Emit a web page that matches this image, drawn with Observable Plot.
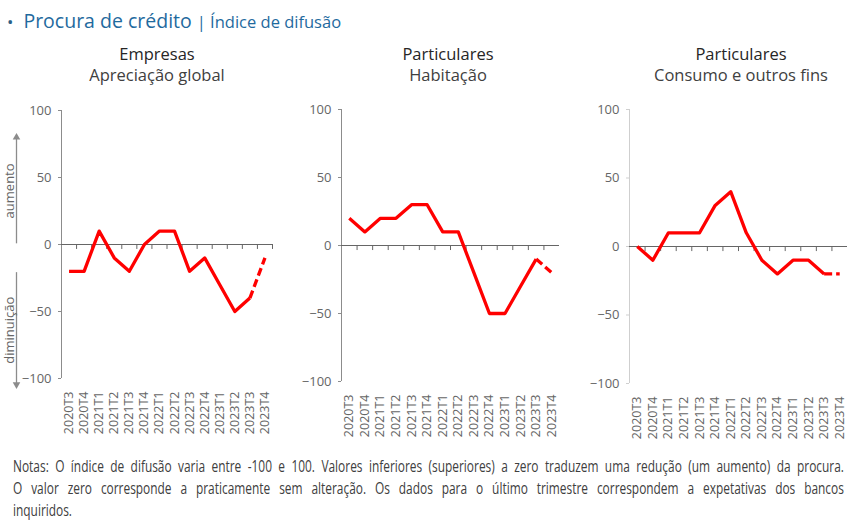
<!DOCTYPE html>
<html>
<head>
<meta charset="utf-8">
<script src="https://cdn.jsdelivr.net/npm/d3@7"></script>
<script src="https://cdn.jsdelivr.net/npm/@observablehq/plot@0.6"></script>
<style>
  body { margin: 0; background: #fff; }
  #chart { position: relative; width: 850px; height: 530px; overflow: hidden; font-family: "Open Sans", sans-serif; }
  .abs { position: absolute; }
  .title { left: 7px; top: 9px; white-space: nowrap; color: #1f6a9e; line-height: 24px; }
  .title .bullet { font-size: 17px; color: #2b5f86; margin-right: 10px; }
  .title .main { font-size: 19.5px; }
  .title .sep { font-size: 16.5px; margin-left: 5px; }
  .ptitle { text-align: center; width: 260px; line-height: 21px; }
  .ptitle .l1 { font-size: 16.5px; color: #262626; }
  .ptitle .l2 { font-size: 16.5px; color: #404040; }
  .notes { left: 13px; top: 455px; width: 1187px; transform: scaleX(0.7); transform-origin: 0 0; font-family: "Open Sans", sans-serif; font-size: 17px; line-height: 22px; color: #404040; }
  .notes div { text-align: justify; text-align-last: justify; white-space: nowrap; }
  .notes div:last-child { text-align-last: left; }
</style>
</head>
<body>
<div id="chart"></div>
<script>
// Quarterly periods on the x axis
const periods = ["2020T3","2020T4","2021T1","2021T2","2021T3","2021T4","2022T1","2022T2","2022T3","2022T4","2023T1","2023T2","2023T3","2023T4"];

// Diffusion index per panel (last quarter = banks' expectations)
const empresas  = [-20, -20, 10, -10, -20, 0, 10, 10, -20, -10, -30, -50, -40, -10];
const habitacao = [20, 10, 20, 20, 30, 30, 10, 10, -20, -50, -50, -30, -10, -20];
const consumo   = [0, -10, 10, 10, 10, 30, 40, 10, -10, -20, -10, -10, -20, -20];

const yTicks = [-100, -50, 0, 50, 100];

// Side annotation of the first panel
const sideLabels = [{label: "aumento", y: 40}, {label: "diminuição", y: -64}];
const sideArrows = [{from: 0.5, to: 80, angle: 0}, {from: -21, to: -104.5, angle: 180}];

// Footnote, one entry per printed line
const noteLines = [
  "Notas: O índice de difusão varia entre -100 e 100. Valores inferiores (superiores) a zero traduzem uma redução (um aumento) da procura.",
  "O valor zero corresponde a praticamente sem alteração. Os dados para o último trimestre correspondem a expetativas dos bancos",
  "inquiridos."
];

const panels = [
  {l1: "Empresas", l2: "Apreciação global", values: empresas, left: 0, width: 285, marginLeft: 61, marginRight: 13, marginTop: 10, plotH: 268, axisColor: "#8c8c8c", nTicks: 14, titleX: 157, side: true},
  {l1: "Particulares", l2: "Habitação", values: habitacao, left: 290, width: 280, marginLeft: 51, marginRight: 11, marginTop: 9, plotH: 272, axisColor: "#8c8c8c", nTicks: 13, titleX: 448},
  {l1: "Particulares", l2: "Consumo e outros fins", values: consumo, left: 570, width: 280, marginLeft: 59, marginRight: 3, marginTop: 9, plotH: 274, axisColor: "#cfcfcf", nTicks: 13, titleX: 741}
];

const chart = document.getElementById("chart");

const title = document.createElement("div");
title.className = "abs title";
title.innerHTML = '<span class="bullet">•</span><span class="main">Procura de crédito</span><span class="sep">| Índice de difusão</span>';
chart.appendChild(title);

const red = "#ff0000";
const svgTop = 100, svgH = 345;

for (const p of panels) {
  const rows = p.values.map((v, i) => ({x: i + 0.5, v, period: periods[i]}));
  const solid = rows.slice(0, -1);
  const dashed = rows.slice(-2);
  const marks = [
    Plot.ruleX([0], {stroke: p.axisColor, strokeWidth: 1}),
    Plot.axisY({ticks: yTicks, tickSize: 3, tickPadding: 7, stroke: p.axisColor, fill: "#666666", fontSize: 13, label: null}),
    Plot.axisX({ticks: rows.map(d => d.x), tickFormat: d => periods[Math.round(d - 0.5)], tickRotate: -90, tickSize: 0, tickPadding: 13, anchor: "bottom", fill: "#666666", fontSize: 12.5, label: null}),
    Plot.ruleY([0], {stroke: "#666666", strokeWidth: 1}),
    Plot.ruleX(d3.range(1, p.nTicks + 1), {x: d => d, y1: 0, y2: -3.7, stroke: "#666666", strokeWidth: 1}),
    Plot.line(solid, {x: "x", y: "v", stroke: red, strokeWidth: 3.3, strokeLinecap: "butt", strokeLinejoin: "round"}),
    Plot.line(dashed, {x: "x", y: "v", stroke: red, strokeWidth: 3.3, strokeLinecap: "butt", strokeDasharray: "8,4"})
  ];
  if (p.side) {
    marks.push(
      Plot.ruleX(sideArrows, {x: 0, y1: "from", y2: "to", dx: -45, stroke: "#8c8c8c", strokeWidth: 1.3}),
      Plot.dot(sideArrows, {x: 0, y: "to", symbol: "triangle", rotate: "angle", r: 2.8, fill: "#8c8c8c", stroke: null, dx: -45}),
      Plot.text(sideLabels, {x: 0, y: "y", text: "label", rotate: -90, dx: -52, fill: "#666666", fontSize: 13})
    );
  }
  const svg = Plot.plot({
    width: p.width,
    height: svgH,
    marginLeft: p.marginLeft,
    marginRight: p.marginRight,
    marginTop: p.marginTop,
    marginBottom: svgH - p.marginTop - p.plotH,
    x: {domain: [0, 14], label: null},
    y: {domain: [-100, 100], label: null},
    style: {fontFamily: "Open Sans, sans-serif", fontSize: "12px", color: "#666666", overflow: "visible", background: "transparent"},
    marks
  });
  svg.classList.add("abs");
  svg.style.left = p.left + "px";
  svg.style.top = svgTop + "px";
  chart.appendChild(svg);

  const t = document.createElement("div");
  t.className = "abs ptitle";
  t.style.left = (p.titleX - 130) + "px";
  t.style.top = "43px";
  t.innerHTML = `<div class="l1">${p.l1}</div><div class="l2">${p.l2}</div>`;
  chart.appendChild(t);
}

const notes = document.createElement("div");
notes.className = "abs notes";
for (const line of noteLines) {
  const d = document.createElement("div");
  d.textContent = line;
  notes.appendChild(d);
}
chart.appendChild(notes);
</script>
</body>
</html>
